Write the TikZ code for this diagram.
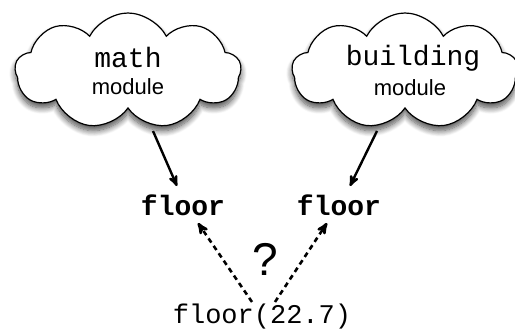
\documentclass[tikz,border=0pt]{standalone}
\usepackage{fontspec}
\setmainfont{Liberation Sans}
\setmonofont{Liberation Mono}
\usetikzlibrary{arrows,positioning,shapes.symbols,shadows.blur}
\tikzset{
>=stealth',
  modcloud/.style={
    cloud, cloud puffs=9, cloud puff arc=125, aspect=1.9,
    draw=black, line width=1.2pt, fill=white,
    blur shadow={shadow xshift=0pt, shadow yshift=-5pt,
      shadow blur steps=10, shadow blur radius=6pt, shadow opacity=70},
    minimum width=226pt, minimum height=116pt,
    align=center, inner sep=0pt},
  modname/.style={font=\fontsize{28}{30}\selectfont\ttfamily},
  modword/.style={font=\fontsize{22}{24}\selectfont},
  funcname/.style={font=\fontsize{28}{30}\selectfont\ttfamily\bfseries},
  calltext/.style={font=\fontsize{27}{29}\selectfont\ttfamily},
  line/.style={draw, line width=2.4pt, ->},
  guess/.style={draw, line width=2.6pt, dash pattern=on 5pt off 4pt, ->},
}
\begin{document}
\begin{tikzpicture}[x=1pt,y=-1pt]
  \useasboundingbox (0,0) rectangle (515,332);
  % the two modules
  \node[modcloud, shape border rotate=10] (mathmod) at (128,71) {};
  \node[modname] (mathname) at (128,57) {math};
  \node[modword] (mathword) at (128,87) {module};
  \node[modcloud, shape border rotate=-8] (buildmod) at (405,71) {};
  \node[modname] (buildname) at (413,58) {building};
  \node[modword] (buildword) at (410,88) {module};
  % the functions
  \node[funcname] (floorA) at (183,205) {floor};
  \node[funcname] (floorB) at (339,205) {floor};
  \node[calltext] (call) at (262,317) {floor(22.7)};
  \node[font=\fontsize{46}{48}\selectfont] (ask) at (265,259) {?};
  \coordinate (mathout) at (153,131);
  \coordinate (buildout) at (377,131);
  \coordinate (callA) at (252,302);
  \coordinate (callB) at (275,302);
  \path[line] (mathout) -- (177,186);
  \path[line] (buildout) -- (350,186);
  \path[guess] (callA) -- (198,223);
  \path[guess] (callB) -- (327,223);
\end{tikzpicture}
\end{document}
